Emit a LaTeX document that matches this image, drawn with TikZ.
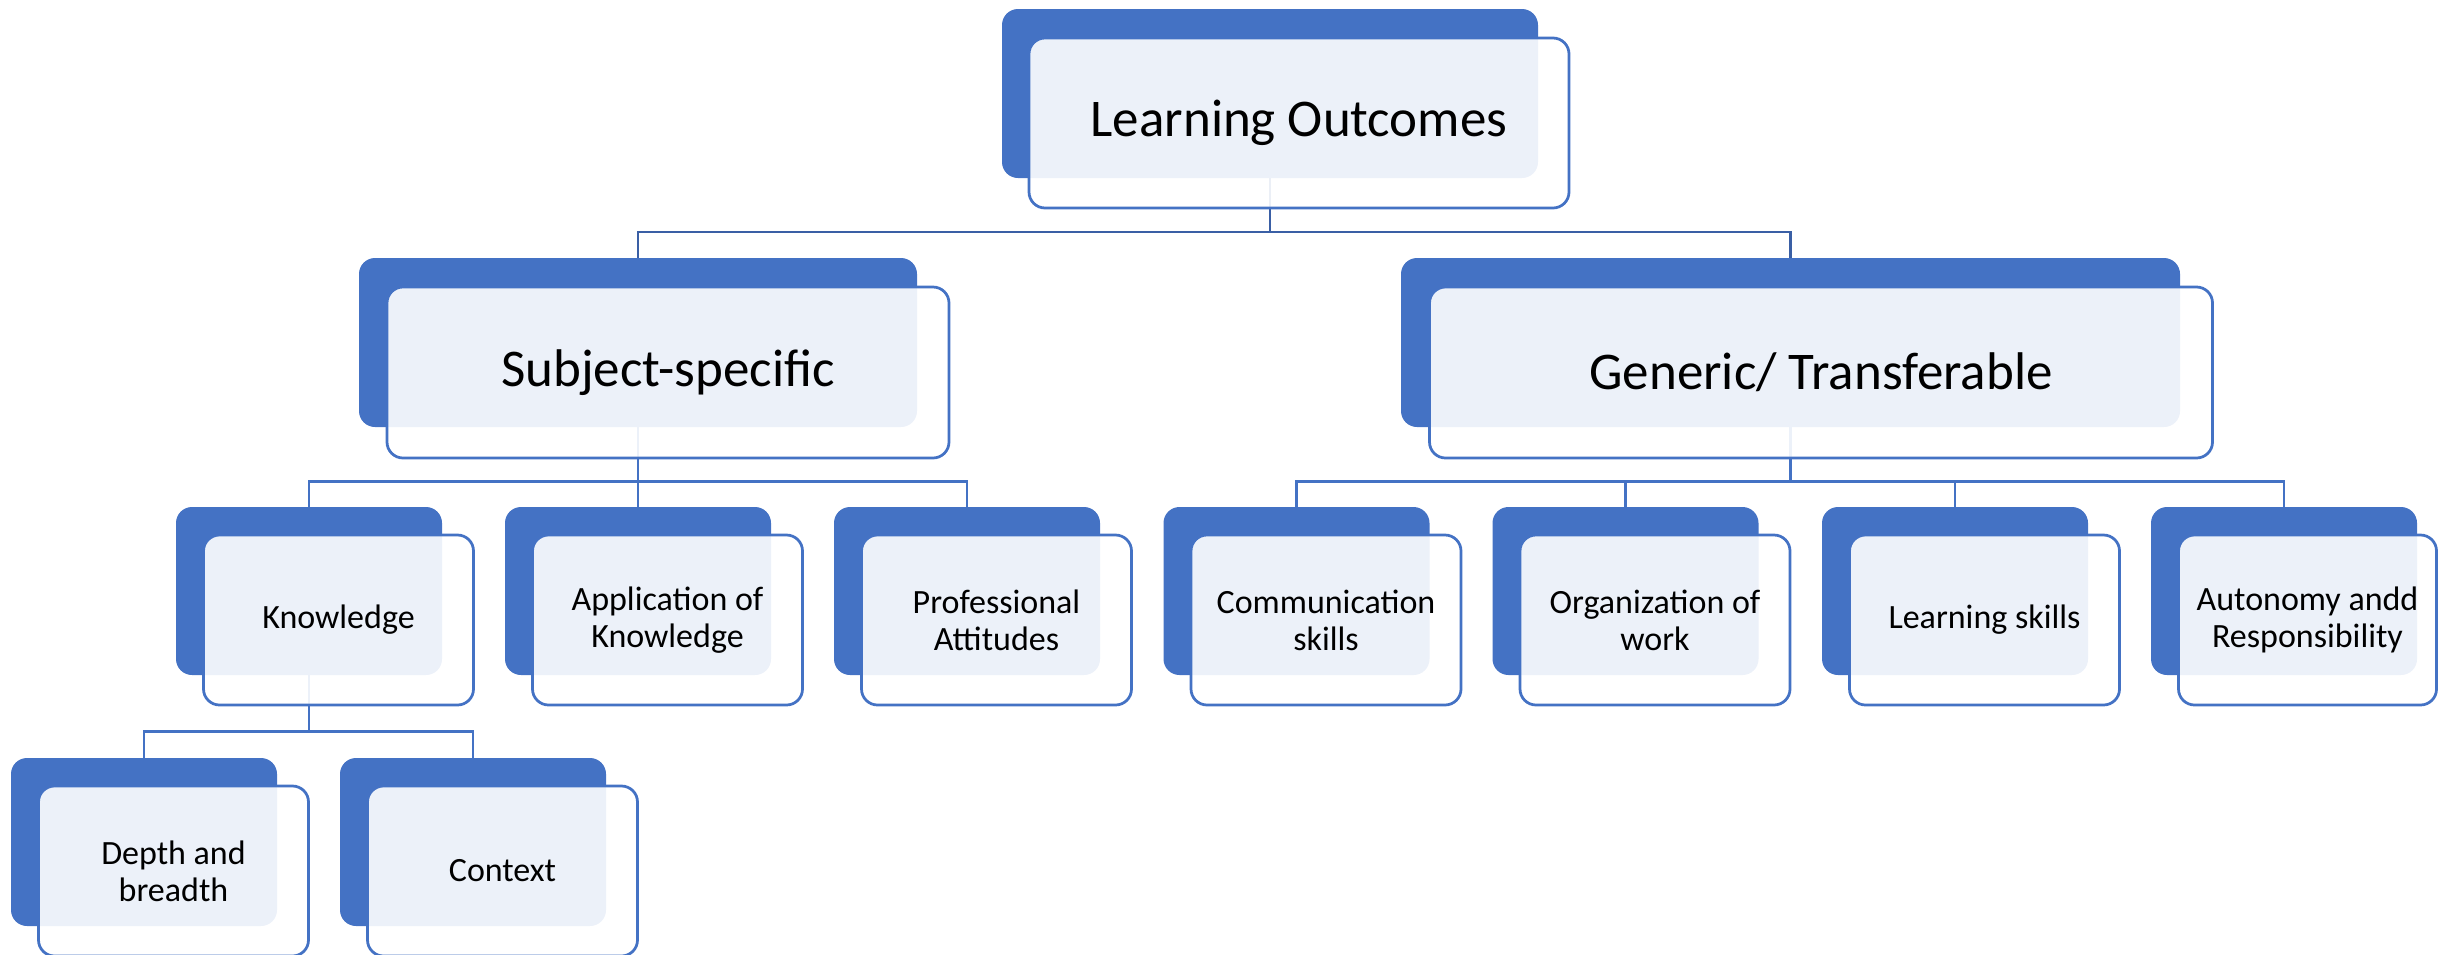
\documentclass[tikz,border=0pt]{standalone}
\usepackage{fontspec}
\setmainfont{Carlito}
\definecolor{accent}{HTML}{4472C4}
\definecolor{linkdark}{HTML}{3A5FA5}
\pgfdeclarelayer{bg}
\pgfsetlayers{bg,main}
\tikzset{
  backbox/.style={rectangle, rounded corners=16pt, fill=accent, draw=none, inner sep=0pt},
  frontbox/.style={rectangle, rounded corners=16pt, fill=white, fill opacity=0.9, text opacity=1,
    draw=accent, draw opacity=1, line width=2.75pt, inner sep=0pt, align=center, text=black},
  big/.style={font=\fontsize{53}{60}\selectfont},
  small/.style={font=\fontsize{34}{37}\selectfont},
  lvlone/.style={minimum width=266, minimum height=168},
  lvlonef/.style={minimum width=270, minimum height=170},
  linktop/.style={draw=linkdark, line width=2.75pt},
  linkstd/.style={draw=accent, line width=2.75pt},
}
\begin{document}
\begin{tikzpicture}[x=1pt, y=-1pt]
\useasboundingbox (0,0) rectangle (2438,954);

% top
\node[backbox, minimum width=536, minimum height=169] (lo-b) at (1270,93.5) {};
\node[frontbox, big, minimum width=540, minimum height=170] (lo) at (1299,123) {Learning Outcomes};

% level 2
\node[backbox, minimum width=558, minimum height=169] (ss-b) at (638,342.5) {};
\node[frontbox, big, minimum width=562, minimum height=171] (ss) at (668,372.5) {Subject-specific};
\node[backbox, minimum width=779, minimum height=169] (gt-b) at (1790.5,342.5) {};
\node[frontbox, big, minimum width=783, minimum height=171] (gt) at (1821,372.5) {Generic/ Transferable};

% level 3
\node[backbox, lvlone] (kn-b) at (309,591) {};
\node[frontbox, small, lvlonef] (kn) at (338.5,620) {Knowledge};
\node[backbox, lvlone] (ap-b) at (638,591) {};
\node[frontbox, small, lvlonef] (ap) at (667.5,620) {Application of\\Knowledge};
\node[backbox, lvlone] (pa-b) at (967,591) {};
\node[frontbox, small, lvlonef] (pa) at (996.5,620) {Professional\\Attitudes};
\node[backbox, lvlone] (cs-b) at (1296.5,591) {};
\node[frontbox, small, lvlonef] (cs) at (1326,620) {Communication\\skills};
\node[backbox, lvlone] (ow-b) at (1625.5,591) {};
\node[frontbox, small, lvlonef] (ow) at (1655,620) {Organization of\\work};
\node[backbox, lvlone] (ls-b) at (1955,591) {};
\node[frontbox, small, lvlonef] (ls) at (1984.5,620) {Learning skills};
\node[backbox, lvlone] (ar-b) at (2284,591) {};
\node[frontbox, small, minimum width=258, minimum height=170] (ar) at (2307.5,620) {Autonomy andd\\Responsibility};

% level 4
\node[backbox, lvlone] (db-b) at (144,842) {};
\node[frontbox, small, lvlonef] (db) at (173.5,871) {Depth and\\breadth};
\node[backbox, lvlone] (cx-b) at (473,842) {};
\node[frontbox, small, lvlonef] (cx) at (502.5,871) {Context};

% bar levels
\coordinate (ya) at (0,232);
\coordinate (yb) at (0,481.5);
\coordinate (yc) at (0,731.5);

\begin{pgfonlayer}{bg}
\draw[linktop] (lo-b.south) -- (lo-b.south |- ya);
\draw[linktop] (ss-b.north) -- (ss-b.north |- ya) -- (gt-b.north |- ya) -- (gt-b.north);

\draw[linkstd] (ss-b.south) -- (ss-b.south |- yb);
\draw[linkstd] (kn-b.north) -- (kn-b.north |- yb) -- (pa-b.north |- yb) -- (pa-b.north);
\draw[linkstd] (ap-b.north) -- (ap-b.north |- yb);

\draw[linkstd] (gt-b.south) -- (gt-b.south |- yb);
\draw[linkstd] (cs-b.north) -- (cs-b.north |- yb) -- (ar-b.north |- yb) -- (ar-b.north);
\draw[linkstd] (ow-b.north) -- (ow-b.north |- yb);
\draw[linkstd] (ls-b.north) -- (ls-b.north |- yb);

\draw[linkstd] (kn-b.south) -- (kn-b.south |- yc);
\draw[linkstd] (db-b.north) -- (db-b.north |- yc) -- (cx-b.north |- yc) -- (cx-b.north);
\end{pgfonlayer}
\end{tikzpicture}
\end{document}
